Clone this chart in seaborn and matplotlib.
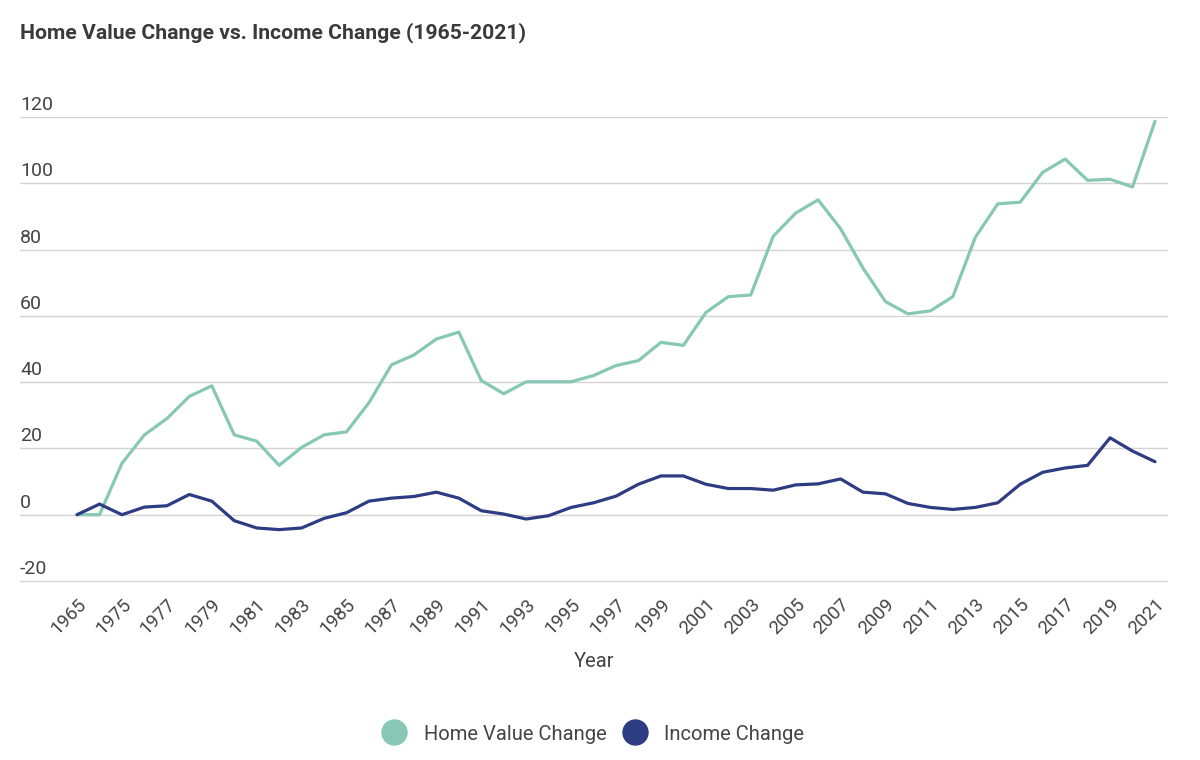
import matplotlib
matplotlib.use("Agg")
import matplotlib.pyplot as plt
import matplotlib.transforms as mtransforms
from matplotlib.lines import Line2D
import seaborn as sns
import pandas as pd

years = ["1965", "1970"] + [str(y) for y in range(1975, 2022)]

home_value_change = [
    0, 0, 15.5, 24.1, 29.0, 35.7, 38.9, 24.1, 22.2, 14.9,
    20.3, 24.1, 25.0, 33.8, 45.2, 48.2, 53.0, 55.1, 40.5, 36.5,
    40.1, 40.1, 40.1, 42.0, 45.0, 46.5, 52.0, 51.1, 61.0, 65.8,
    66.3, 84.0, 91.0, 95.0, 86.3, 74.4, 64.3, 60.6, 61.5, 65.8,
    83.7, 93.8, 94.3, 103.3, 107.3, 100.9, 101.2, 98.9, 118.7,
]
income_change = [
    0, 3.2, 0, 2.3, 2.7, 6.1, 4.1, -1.8, -4.0, -4.5,
    -4.0, -1.1, 0.6, 4.1, 5.0, 5.5, 6.8, 5.0, 1.2, 0.2,
    -1.3, -0.3, 2.2, 3.6, 5.6, 9.2, 11.7, 11.7, 9.2, 7.9,
    7.9, 7.4, 9.0, 9.3, 10.8, 6.8, 6.3, 3.4, 2.2, 1.6,
    2.2, 3.6, 9.2, 12.8, 14.1, 14.9, 23.2, 19.2, 16.0,
]

series_names = ["Home Value Change", "Income Change"]
series_colors = ["#86c8b3", "#2e3c83"]
y_ticks = [-20, 0, 20, 40, 60, 80, 100, 120]

df = pd.DataFrame({
    "pos": list(range(len(years))) * 2,
    "value": home_value_change + income_change,
    "series": [series_names[0]] * len(years) + [series_names[1]] * len(years),
})

sns.set_style("white")
plt.rcParams["font.family"] = ["Roboto", "DejaVu Sans"]

text_color = "#444444"
fig = plt.figure(figsize=(12, 7.6), dpi=100)
# axes spans the gridlines; 2 px extra at the bottom so the -20 line is not clipped
ax = fig.add_axes([20 / 1200, 1 - 583 / 760, 1148 / 1200, 466 / 760])

sns.lineplot(data=df, x="pos", y="value", hue="series",
             palette=dict(zip(series_names, series_colors)),
             linewidth=2.3, legend=False, ax=ax, clip_on=False)

ax.set_ylim(-20 - 2 / 3.316, 120)
ax.set_xlim(-2.54, 48.58)
ax.set_yticks(y_ticks)
ax.set_yticklabels([str(v) for v in y_ticks])
ax.grid(axis="y", color="#d3d3d3", linewidth=1)
ax.grid(axis="x", visible=False)
for s in ax.spines.values():
    s.set_visible(False)

ax.tick_params(axis="y", length=0, pad=0, labelsize=14, labelcolor=text_color)
offset = mtransforms.ScaledTranslation(0, 3 / 100, fig.dpi_scale_trans)
for lab in ax.get_yticklabels():
    lab.set_horizontalalignment("left")
    lab.set_verticalalignment("bottom")
    lab.set_transform(lab.get_transform() + offset)

ax.set_xticks(list(range(0, len(years), 2)))
ax.set_xticklabels(years[::2], rotation=45, ha="right", va="top",
                   rotation_mode="anchor")
ax.tick_params(axis="x", length=0, pad=9, labelsize=13.5, labelcolor=text_color)
ax.set_xlabel("Year", fontsize=14.5, color=text_color, labelpad=10)
ax.set_ylabel("")

fig.text(20 / 1200, 1 - 33 / 760, "Home Value Change vs. Income Change (1965-2021)",
         fontsize=15.2, fontweight="bold", color="#3a3a3a", va="center", ha="left")

handles = [Line2D([], [], linestyle="none", marker="o", markersize=18,
                  markerfacecolor=c, markeredgecolor=c) for c in series_colors]
fig.legend(handles, series_names, loc="center", bbox_to_anchor=(593 / 1200, 1 - 734 / 760),
           ncol=2, frameon=False, fontsize=14.5, labelcolor=text_color,
           handletextpad=0.85, columnspacing=0.8, handlelength=1.2)

fig.savefig("out.png", dpi=100)
